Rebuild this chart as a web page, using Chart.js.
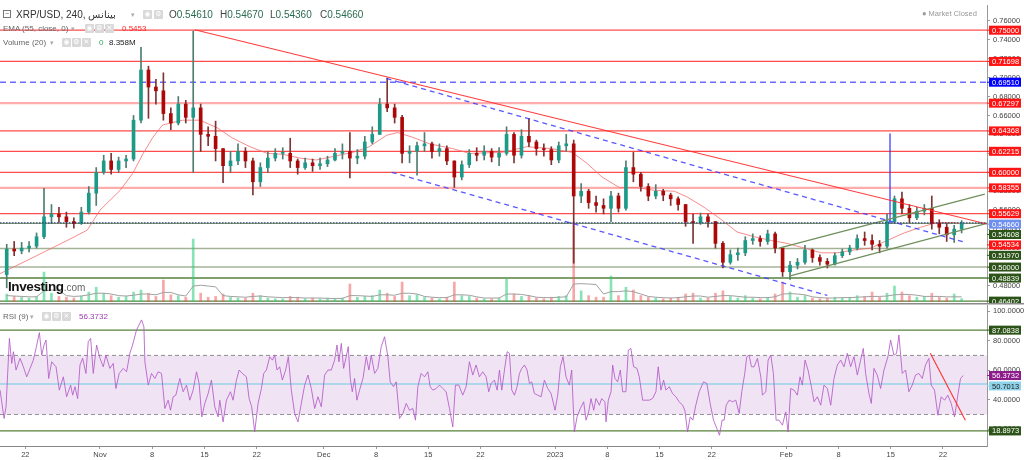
<!DOCTYPE html>
<html>
<head>
<meta charset="utf-8">
<title>XRP/USD, 240</title>
<script src="https://cdn.jsdelivr.net/npm/chart.js@4.4.1/dist/chart.umd.min.js"></script>
<style>
  body { margin:0; background:#fff; }
  #wrap { position:relative; width:1024px; height:460px; overflow:hidden; font-family:"Liberation Sans", Arial, sans-serif; }
  canvas { position:absolute; left:0; }
  .t { position:absolute; white-space:nowrap; line-height:1; }
  .ic { position:absolute; width:9px; height:9px; background:#d9d9d9; color:#fff; font-size:7px; line-height:9px; text-align:center; border-radius:1px; font-family:"DejaVu Sans", sans-serif; }
  .cr { position:absolute; color:#aaa; font-size:7px; font-family:"DejaVu Sans", sans-serif; }
  .lbl { color:#666; font-size:8px; }
</style>
</head>
<body>
<div id="wrap">
  <canvas id="main" width="1024" height="304" style="top:0"></canvas>
  <canvas id="rsi" width="1024" height="157" style="top:303px"></canvas>

  <div class="t" style="left:3px;top:10px;width:6px;height:6px;border:1px solid #777;font-size:7px;line-height:6px;text-align:center;color:#555">−</div>
  <div class="t" style="left:16px;top:10px;font-size:10px;color:#333">XRP/USD, 240, <bdi>بينانس</bdi></div>
  <div class="cr" style="left:131px;top:11px">▾</div>
  <div class="ic" style="left:143px;top:10px">◉</div>
  <div class="ic" style="left:154px;top:10px">⚙</div>
  <div class="t" style="left:169px;top:10px;font-size:10px;color:#444">O<span style="color:#2a6b50">0.54610</span></div>
  <div class="t" style="left:220px;top:10px;font-size:10px;color:#444">H<span style="color:#2a6b50">0.54670</span></div>
  <div class="t" style="left:270px;top:10px;font-size:10px;color:#444">L<span style="color:#2a6b50">0.54360</span></div>
  <div class="t" style="left:320px;top:10px;font-size:10px;color:#444">C<span style="color:#2a6b50">0.54660</span></div>

  <div class="t lbl" style="left:3px;top:25px">EMA (55, close, 0)</div>
  <div class="cr" style="left:71px;top:25px">▾</div>
  <div class="ic" style="left:85px;top:24px">◉</div>
  <div class="ic" style="left:95px;top:24px">⚙</div>
  <div class="ic" style="left:105px;top:24px">✕</div>
  <div class="t" style="left:122px;top:25px;font-size:8px;color:#ff2a2a">0.5453</div>

  <div class="t lbl" style="left:3px;top:39px">Volume (20)</div>
  <div class="cr" style="left:50px;top:39px">▾</div>
  <div class="ic" style="left:62px;top:38px">◉</div>
  <div class="ic" style="left:72px;top:38px">⚙</div>
  <div class="ic" style="left:82px;top:38px">✕</div>
  <div class="t" style="left:99px;top:39px;font-size:8px;color:#2eaa5c">0</div>
  <div class="t" style="left:109px;top:39px;font-size:8px;color:#222">8.358M</div>

  <div class="t" style="left:922px;top:10px;font-size:7.5px;color:#999">● Market Closed</div>

  <div class="t" style="left:8px;top:280px;font-size:13.5px;font-weight:bold;color:#111;letter-spacing:-0.4px">Investing<span style="font-size:10px;font-weight:normal;color:#666;letter-spacing:0">.com</span></div>

  <div class="t lbl" style="left:3px;top:313px">RSI (9)</div>
  <div class="cr" style="left:30px;top:313px">▾</div>
  <div class="ic" style="left:42px;top:312px">◉</div>
  <div class="ic" style="left:52px;top:312px">⚙</div>
  <div class="ic" style="left:62px;top:312px">✕</div>
  <div class="t" style="left:79px;top:313px;font-size:8px;color:#9b3fae">56.3732</div>
</div>

<script>
// days counted from Nov 1 2022 (= 0); one candle per day
const firstDay = -13
const firstOpen = 0.492
const closes = [
  0.519,0.517,0.520,0.522,0.532,0.553,0.556,0.553,0.548,0.546,
  0.558,0.578,0.600,0.612,0.603,0.612,0.614,0.655,0.708,0.690,
  0.686,0.662,0.652,0.672,0.658,0.668,0.640,0.638,0.625,0.607,
  0.612,0.622,0.612,0.590,0.605,0.615,0.620,0.620,0.612,0.605,
  0.610,0.607,0.609,0.613,0.620,0.622,0.615,0.617,0.632,0.640,
  0.672,0.668,0.658,0.620,0.622,0.628,0.630,0.622,0.625,0.612,
  0.595,0.608,0.620,0.618,0.622,0.616,0.620,0.640,0.618,0.638,
  0.632,0.625,0.624,0.613,0.628,0.630,0.575,0.580,0.568,0.565,
  0.562,0.575,0.562,0.605,0.598,0.585,0.575,0.580,0.576,0.572,
  0.566,0.548,0.547,0.553,0.548,0.525,0.505,0.513,0.515,0.528,
  0.530,0.527,0.535,0.520,0.495,0.502,0.505,0.518,0.510,0.506,
  0.503,0.512,0.516,0.520,0.530,0.528,0.524,0.522,0.548,0.572,
  0.562,0.552,0.559,0.562,0.546,0.542,0.534,0.540,0.5466
]
const highs = [
  0.524,0.527,0.526,0.527,0.536,0.583,0.566,0.563,0.558,0.552,
  0.563,0.585,0.605,0.618,0.620,0.616,0.618,0.660,0.732,0.712,
  0.698,0.705,0.668,0.680,0.676,0.749,0.672,0.648,0.654,0.625,
  0.622,0.630,0.626,0.615,0.610,0.622,0.625,0.626,0.636,0.614,
  0.615,0.614,0.615,0.617,0.625,0.630,0.642,0.624,0.638,0.648,
  0.678,0.6995,0.672,0.660,0.628,0.632,0.642,0.632,0.630,0.628,
  0.612,0.612,0.624,0.626,0.628,0.625,0.626,0.648,0.642,0.645,
  0.657,0.634,0.630,0.627,0.632,0.640,0.634,0.588,0.582,0.575,
  0.572,0.580,0.578,0.612,0.621,0.600,0.588,0.587,0.582,0.578,
  0.574,0.566,0.556,0.557,0.556,0.548,0.527,0.518,0.520,0.532,
  0.535,0.533,0.539,0.537,0.520,0.506,0.509,0.523,0.519,0.513,
  0.509,0.515,0.519,0.523,0.534,0.537,0.534,0.528,0.556,0.575,
  0.579,0.566,0.563,0.566,0.575,0.550,0.546,0.544,0.549
]
const lows = [
  0.478,0.512,0.514,0.516,0.520,0.530,0.546,0.547,0.542,0.541,
  0.545,0.556,0.565,0.598,0.598,0.600,0.605,0.612,0.652,0.657,
  0.672,0.655,0.645,0.650,0.652,0.600,0.622,0.628,0.612,0.589,
  0.600,0.608,0.605,0.576,0.585,0.600,0.612,0.614,0.605,0.598,
  0.603,0.601,0.603,0.606,0.612,0.614,0.594,0.609,0.614,0.630,
  0.640,0.664,0.652,0.610,0.610,0.597,0.622,0.615,0.617,0.608,
  0.584,0.592,0.605,0.612,0.613,0.611,0.607,0.618,0.610,0.615,
  0.627,0.618,0.617,0.608,0.610,0.622,0.504,0.568,0.562,0.558,
  0.556,0.548,0.558,0.560,0.590,0.580,0.570,0.572,0.570,0.565,
  0.560,0.543,0.525,0.545,0.542,0.520,0.499,0.503,0.507,0.512,
  0.524,0.522,0.524,0.515,0.490,0.487,0.498,0.503,0.505,0.502,
  0.499,0.502,0.510,0.513,0.518,0.523,0.518,0.515,0.520,0.546,
  0.556,0.547,0.550,0.555,0.540,0.535,0.527,0.526,0.536
]
// volume in millions
const volumes = [
  20,14,12,10,14,75,22,14,12,10,
  15,25,37,22,16,12,14,25,30,22,
  14,55,18,16,12,158,22,12,14,20,
  12,10,10,22,16,10,8,8,14,12,
  8,10,8,10,8,10,45,12,14,16,
  30,22,14,50,16,18,12,10,8,12,
  50,16,14,10,8,8,10,57,20,14,
  16,10,8,12,14,16,200,28,16,12,
  12,65,16,37,30,16,12,10,8,10,
  12,20,22,10,10,22,28,14,10,16,
  10,8,12,20,50,25,12,16,10,8,
  10,12,10,12,16,14,25,12,22,40,
  25,16,12,14,22,12,10,20,8.358
]
const volumeMa = [
  16,15,14,13,13,28,30,29,16,14,
  15,18,22,22,20,16,15,17,20,20,
  18,24,24,18,15,40,42,40,38,16,
  14,13,12,14,15,13,12,11,11,11,
  10,10,10,9,9,9,16,16,15,14,
  18,18,17,22,22,20,14,12,11,11,
  18,18,17,13,10,10,10,20,20,19,
  16,12,11,11,12,13,45,46,45,44,
  20,26,26,28,26,20,14,12,11,10,
  11,13,15,15,12,14,16,16,14,12,
  12,11,11,13,20,21,20,18,13,11,
  10,10,11,11,12,13,14,14,15,18,
  19,19,17,14,14,14,13,13,13
]
const emaDay = [-13.4,-9.0,-4.4,-1.7,0,2.7,4.4,5.8,7.1,8.4,11.1,13.4,15.7,17.8,20.1,22.4,24.5,26.8,29.0,33.9,
  36.1,38.4,39.9,41.9,44.2,47.3,49.5,53.9,57.2,60.6,63.3,65.2,67.3,69.6,71.9,74.3,77.0,78.7,81.0,83.3,
  85.4,87.7,90.0,92.1,94.4,96.7,98.8,101.1,103.3,105.5,107.8,110.0,112.2,114.5,115.8]
const emaVal = [0.493,0.510,0.528,0.539,0.560,0.581,0.599,0.620,0.637,0.650,0.655,0.655,0.647,0.636,0.627,0.620,0.619,0.615,0.613,0.621,
  0.627,0.639,0.642,0.637,0.630,0.625,0.620,0.621,0.627,0.625,0.621,0.610,0.595,0.584,0.584,0.581,0.580,0.574,0.563,0.550,
  0.537,0.532,0.528,0.525,0.520,0.515,0.515,0.518,0.520,0.528,0.536,0.542,0.547,0.547,0.5453]

const rsiDay = [
  -13.39,-12.85,-12.59,-12.14,-11.83,-11.6,-11.25,-10.71,-10.27,-9.82,
  -9.37,-8.93,-8.57,-8.12,-7.81,-7.5,-7.23,-6.88,-6.47,-5.89,
  -5.45,-4.91,-4.47,-3.93,-3.66,-3.35,-2.99,-2.68,-2.32,-1.88,
  -1.57,-1.25,-0.9,-0.45,0,0.44,0.8,1.33,1.78,2.14,
  2.58,3.12,3.57,4.01,4.37,4.9,5.57,5.89,6.02,6.47,
  6.91,7.36,7.8,8.25,8.7,9.14,9.46,9.81,10.17,10.7,
  11.15,11.6,12.04,12.49,12.94,13.29,13.65,14.05,14.5,14.94,
  15.39,15.84,16.06,16.5,16.95,17.49,17.84,18.29,18.65,19.09,
  19.63,19.99,20.34,20.74,21.19,21.64,21.95,22.31,22.75,23.11,
  23.42,23.73,24.09,24.45,24.89,25.25,25.65,26.1,26.54,26.99,
  27.44,27.88,28.33,28.78,29.22,29.67,30.11,30.56,31.01,31.45,
  31.77,32.03,32.35,32.66,33.01,33.28,33.55,33.82,34.13,34.44,
  34.8,35.25,35.69,36.05,36.36,36.81,37.25,37.7,38.15,38.59,
  38.9,39.35,39.71,40.15,40.6,41.05,41.49,41.94,42.29,42.61,
  43.05,43.5,43.95,44.26,44.62,45.06,45.51,45.96,46.4,46.85,
  47.29,47.65,48.1,48.63,49.08,49.52,49.97,50.42,50.86,51.31,
  51.76,52.11,52.43,52.87,
  53.24,53.55,53.86,54.22,54.58,54.89,55.2,55.56,55.91,56.23,
  56.54,56.9,57.25,57.57,57.88,58.23,58.68,59.13,59.57,60.02,
  60.47,61,61.36,61.71,62.07,62.47,62.92,63.23,63.59,63.95,
  64.39,64.84,65.15,65.51,65.82,66.18,66.49,66.94,67.25,67.69,
  67.83,68.14,68.5,68.72,69.03,69.39,69.75,70.06,70.5,70.82,
  71.17,71.53,71.98,72.29,72.74,73.18,73.63,74.07,74.52,74.83,
  75.19,75.55,75.86,76.31,76.75,77.2,77.64,78.09,78.4,78.76,
  79.12,79.47,79.87,80.32,80.9,81.35,81.79,82.24,82.69,83.04,
  83.4,83.67,83.94,84.34,84.78,85.23,85.68,86.03,86.43,86.7,
  87.01,87.33,87.68,88.13,88.58,88.8,89.25,89.56,89.92,90.27,
  90.63,91.03,91.48,91.92,92.24,92.59,93.04,93.48,93.84,94.15,
  94.51,94.91,95.36,95.72,96.16,96.61,97.05,97.5,97.95,98.39,
  98.84,99.28,99.73,100.18,100.62,101.07,101.52,101.96,102.32,102.63,
  103.08,103.39,103.75,104.19,104.64,105.09,105.62,105.98,106.42,106.78,
  107.09,107.54,107.99,108.43,108.88,109.32,109.77,110.22,110.66,111.11,
  111.42,111.87,112.31,112.76,113.21,113.65,114.1,114.55,114.99,115.35,
  115.71
]
const rsiVal = [
  46.5,27.3,35.2,81.5,64.6,72.5,60.1,68,62.3,55.5,
  61.2,66.8,74.7,85.4,70.2,77,80.4,54.4,65.7,62.3,
  46.5,55.5,42,49.9,43.1,48.8,40.8,63.5,68,57.8,
  79.3,81.5,57.8,77,68,62.3,70.2,61.2,64.6,47.6,
  57.8,61.2,58.9,71.4,77,87.2,94,89.4,65.7,49.9,
  57.8,54.4,58.9,57.8,34.1,39.7,32.9,42,43.1,54.4,
  45.4,49.9,39.7,46.5,58.9,51,28.4,37.5,44.2,53.3,
  35.2,28.4,39.7,25,39.7,45.4,39.7,53.3,60.1,57.8,
  55.5,40.8,35.2,18.2,37.5,47.6,57.8,60.1,69.1,66.8,
  70.2,60.1,62.3,53.3,60.1,69.1,46.5,30.7,25,37.5,
  49.9,56.7,47.6,34.1,42,35.2,56.7,60.1,60.1,66.8,
  77,65.7,78.1,61.2,69.1,75.9,54.4,45.4,54.4,39.7,
  46.5,54.4,69.1,60.1,70.2,57.8,61.2,75.9,82.6,69.1,
  52.1,48.8,52.1,27.3,30.7,37.5,32.9,34.1,26.2,48.8,
  57.8,55.5,58.9,48.8,46.5,47.6,49.9,47.6,45.4,34.1,
  21.6,49.9,49.9,43.1,48.8,65.7,56.7,63.5,55.5,58.9,
  55.5,45.4,51,53.3,
  46.5,60.1,46.5,60.1,72.5,71.4,46.5,43.1,48.8,57.8,
  61.2,63.5,60.1,51,52.1,44.2,43.1,42,53.3,47.6,
  44.2,32.9,43.1,62.3,69.1,55.5,49.9,60.1,18.2,28.4,
  34.1,38.6,26.2,31.8,40.8,32.9,40.8,36.3,40.8,38.6,
  25,39.7,45.4,63.5,54.4,52.1,60.1,45.4,45.4,73.6,
  74.7,62.3,61.2,55.5,39.7,39.7,39.7,40.8,45.4,62.3,
  46.5,53.3,46.5,48.8,44.2,42,38.6,36.3,32.9,18.2,
  28.4,26.2,36.3,45.4,52.1,51,37.5,26.2,20.5,16,
  26.2,26.2,36.3,39.7,38.6,39.7,30.7,45.4,57.8,69.1,
  70.2,62.3,62.3,68,55.5,43.1,45.4,66.8,70.2,57.8,
  26.2,26.2,22.8,31.8,18.2,47.6,46.5,43.1,55.5,49.9,
  66.8,60.1,48.8,38.6,42,36.3,49.9,47.6,36.3,54.4,
  63.5,66.8,62.3,71.4,62.3,69.1,56.7,66.8,74.7,57.8,
  44.2,37.5,61.2,56.7,47.6,60.1,69.1,80.4,70.2,71.4,
  83.8,57.8,60.1,45.4,49.9,56.7,57.8,54.4,63.5,68,
  49.9,46.5,29.5,42,39.7,43.1,37.5,28.4,43.1,54.4,
  56.37
]

const xTickDays = [-10,0,7,14,21,30,37,44,51,61,68,75,82,92,99,106,113]
const xTickLabels = ['22','Nov','8','15','22','Dec','8','15','22','2023','8','15','22','Feb','8','15','22']
const priceTicks = [0.48,0.50,0.52,0.54,0.56,0.58,0.60,0.62,0.64,0.66,0.68,0.70,0.72,0.74,0.76]
const rsiTicks = [20,40,60,80,100]

// horizontal levels drawn on the price pane
const levelValues = [0.75,0.71698,0.69510,0.67297,0.64368,0.62215,0.60000,0.58355,0.55629,0.54608,0.51970,0.50000,0.48839,0.46402]
const lastPrice = 0.5466
// trend lines: [day, price] pairs
const trendRed = [[12.7,0.7505],[118.9,0.54534]]
const trendBlueUpper = [[38.4,0.699],[115.8,0.5264]]
const trendBlueLower = [[39.1,0.600],[97.5,0.470]]
const channelLower = [[92.4,0.4905],[118.9,0.54608]]
const channelUpper = [[91.0,0.520],[118.6,0.577]]
const blueMarker = [[105.9,0.641],[105.9,0.546]]
// rsi pane
const rsiLevels = [87.0838,50.7013,18.8973]
const rsiBand = [70,30]
const rsiTrend = [[111.3,71.4],[116.0,26.1]]

const mainTags = [0.75,0.71698,0.69510,0.67297,0.64368,0.62215,0.60000,0.58355,0.55629,0.5466,0.54608,0.54534,0.51970,0.50000,0.48839,0.46402]
const rsiTags = [87.0838,56.3732,50.7013,18.8973]

// ---- styles ----
const RED = 'rgba(255,45,45,0.85)', PINK = 'rgba(255,90,90,0.5)', DKG = '#2d5418'
const levelStyle = [
  {c:RED,w:1.2},{c:RED,w:1.2},{c:'rgba(70,70,255,0.8)',w:1.5,d:[6,4]},{c:PINK,w:2.2},
  {c:RED,w:1.2},{c:RED,w:1.2},{c:RED,w:1.2},{c:PINK,w:2.2},{c:RED,w:1.2},
  {c:'#7d9a6b',w:1.2},{c:'#a3b397',w:1.5},{c:'#a3b397',w:1.5},{c:'#56803b',w:1.5},{c:'#56803b',w:1.2}
]
const mainTagBg = ['#ff1414','#ff1414','#0000ff','#ff1414','#ff1414','#ff1414','#ff1414','#ff1414','#ff1414','#6f8ff0',DKG,'#ff1414',DKG,DKG,DKG,DKG]
const rsiTagBg = [DKG,'#8b1a8b','#8fd3ea',DKG]
const rsiTagFg = ['#fff','#fff','#222','#fff']

const xMin = -13.4, xMax = 118.9
const pMin = 0.46311, pMax = 0.77657
const rsiMin = 8.7, rsiMax = 104.1
const volMax = 745
const FONT = '"Liberation Sans", Arial, sans-serif'

function line(points, color, width, dash, order, axis) {
  return {
    type: 'line',
    data: points.map(p => ({x: p[0], y: p[1]})),
    borderColor: color, borderWidth: width, borderDash: dash || [],
    pointRadius: 0, fill: false, tension: 0, order: order, yAxisID: axis || 'y'
  }
}

const tagPlugin = {
  id: 'tags',
  afterDraw(chart, args, opts) {
    const ctx = chart.ctx, area = chart.chartArea, sc = chart.scales[opts.axis]
    const items = opts.values.map((v, i) => ({v, py: sc.getPixelForValue(v), bg: opts.bg[i], fg: opts.fg ? opts.fg[i] : '#fff'}))
      .sort((a, b) => a.py - b.py)
    let prev = -1e9
    ctx.save()
    ctx.font = '7.5px ' + FONT
    ctx.textBaseline = 'middle'
    items.forEach(t => {
      const y = Math.max(t.py, prev + 10.4)
      prev = y
      ctx.fillStyle = t.bg
      ctx.fillRect(area.right + 2, y - 4.5, 32, 9)
      ctx.fillRect(area.right, y - 0.5, 2, 1)
      ctx.fillStyle = t.fg
      ctx.fillText(t.v.toFixed(opts.decimals), area.right + 5, y + 0.5)
    })
    ctx.restore()
  }
}

const sepPlugin = {
  id: 'sep',
  afterDraw(chart) {
    const ctx = chart.ctx
    ctx.save()
    ctx.fillStyle = '#8a8a8a'
    ctx.fillRect(0, 0, 1024, 1.5)
    ctx.restore()
  }
}

const opens = closes.map((c, i) => i === 0 ? firstOpen : closes[i - 1])
const centers = closes.map((c, i) => firstDay + i + 0.5)
const rising = closes.map((c, i) => c >= opens[i])

const mainSets = []
levelValues.forEach((v, i) => {
  const s = levelStyle[i]
  mainSets.push(line([[xMin, v], [xMax, v]], s.c, s.w, s.d, 8))
})
mainSets.push({
  type: 'bar', yAxisID: 'yVol', order: 6, grouped: false, barThickness: 2,
  data: centers.map((x, i) => ({x, y: volumes[i]})),
  backgroundColor: rising.map(u => u ? 'rgba(40,205,120,0.55)' : 'rgba(240,80,80,0.5)')
})
mainSets.push(line(centers.map((x, i) => [x, volumeMa[i]]), '#a0a0a0', 1, null, 5, 'yVol'))
mainSets.push(line(emaDay.map((d, i) => [d, emaVal[i]]), 'rgba(245,110,110,0.8)', 1, null, 4))
mainSets.push({
  type: 'bar', yAxisID: 'y', order: 3, grouped: false, barThickness: 1,
  data: centers.map((x, i) => ({x, y: [lows[i], highs[i]]})),
  backgroundColor: rising.map(u => u ? '#4f7d72' : '#7e3434')
})
mainSets.push({
  type: 'bar', yAxisID: 'y', order: 2, grouped: false, barThickness: 3, minBarLength: 1,
  data: centers.map((x, i) => ({x, y: [opens[i], closes[i]]})),
  backgroundColor: rising.map(u => u ? '#1c9a88' : '#ad0808')
})
mainSets.push(line([[xMin, lastPrice], [xMax, lastPrice]], '#1c2a80', 1, [1.5, 1.5], 1))
mainSets.push(line(trendRed, 'rgba(255,40,40,0.9)', 1.1, null, 1))
mainSets.push(line(trendBlueUpper, 'rgba(60,60,255,0.85)', 1.3, [5, 4], 1))
mainSets.push(line(trendBlueLower, 'rgba(60,60,255,0.85)', 1.3, [5, 4], 1))
mainSets.push(line(channelLower, '#6f8f5c', 1.2, null, 1))
mainSets.push(line(channelUpper, '#6f8f5c', 1.2, null, 1))
mainSets.push(line(blueMarker, '#3030ff', 1.2, null, 1))

const yAxisFit = s => { s.width = 37; s.paddingTop = 0; s.paddingBottom = 0 }

new Chart(document.getElementById('main'), {
  type: 'bar',
  data: {datasets: mainSets},
  plugins: [tagPlugin],
  options: {
    responsive: false, animation: false, events: [], devicePixelRatio: 1,
    layout: {padding: {top: 5, bottom: 2, left: 0, right: 0}},
    plugins: {
      legend: {display: false}, tooltip: {enabled: false},
      tags: {axis: 'y', values: mainTags, bg: mainTagBg, decimals: 5}
    },
    scales: {
      x: {type: 'linear', min: xMin, max: xMax, display: false, offset: false, grid: {offset: false}},
      y: {
        position: 'right', min: pMin, max: pMax,
        afterBuildTicks: s => { s.ticks = priceTicks.map(v => ({value: v})) },
        afterFit: yAxisFit,
        ticks: {callback: v => v.toFixed(5), font: {size: 7.5, family: FONT}, color: '#444', padding: 3},
        grid: {drawOnChartArea: false, tickLength: 3, color: '#999'},
        border: {color: '#999'}
      },
      yVol: {display: false, min: 0, max: volMax}
    }
  }
})

const rsiSets = []
const band70 = line([[xMin, rsiBand[0]], [xMax, rsiBand[0]]], '#8c8c8c', 1, [4, 3], 6)
band70.fill = '+1'
band70.backgroundColor = 'rgba(205,165,220,0.3)'
rsiSets.push(band70)
rsiSets.push(line([[xMin, rsiBand[1]], [xMax, rsiBand[1]]], '#8c8c8c', 1, [4, 3], 6))
rsiSets.push(line([[xMin, rsiLevels[0]], [xMax, rsiLevels[0]]], '#56803b', 1.3, null, 5))
rsiSets.push(line([[xMin, rsiLevels[1]], [xMax, rsiLevels[1]]], '#add8ea', 2, null, 5))
rsiSets.push(line([[xMin, rsiLevels[2]], [xMax, rsiLevels[2]]], '#56803b', 1.3, null, 5))
rsiSets.push(line(rsiDay.map((d, i) => [d, rsiVal[i]]), 'rgba(180,90,200,0.85)', 1, null, 2))
rsiSets.push(line(rsiTrend, '#ff3030', 1.1, null, 1))

new Chart(document.getElementById('rsi'), {
  type: 'line',
  data: {datasets: rsiSets},
  plugins: [tagPlugin, sepPlugin],
  options: {
    responsive: false, animation: false, events: [], devicePixelRatio: 1,
    layout: {padding: {top: 2, bottom: 0, left: 0, right: 0}},
    plugins: {
      legend: {display: false}, tooltip: {enabled: false},
      tags: {axis: 'y', values: rsiTags, bg: rsiTagBg, fg: rsiTagFg, decimals: 4}
    },
    scales: {
      x: {
        type: 'linear', min: xMin, max: xMax, position: 'bottom',
        afterBuildTicks: s => { s.ticks = xTickDays.map(v => ({value: v})) },
        afterFit: s => { s.height = 14; s.paddingLeft = 0; s.paddingRight = 0 },
        ticks: {callback: (v, i) => xTickLabels[i], font: {size: 7.5, family: FONT}, color: '#444', padding: 1, maxRotation: 0, autoSkip: false},
        grid: {drawOnChartArea: false, tickLength: 3, color: '#999'},
        border: {color: '#888'}
      },
      y: {
        position: 'right', min: rsiMin, max: rsiMax,
        afterBuildTicks: s => { s.ticks = rsiTicks.map(v => ({value: v})) },
        afterFit: yAxisFit,
        ticks: {callback: v => v.toFixed(4), font: {size: 7.5, family: FONT}, color: '#444', padding: 3},
        grid: {drawOnChartArea: false, tickLength: 3, color: '#999'},
        border: {color: '#999'}
      }
    }
  }
})
</script>
</body>
</html>
